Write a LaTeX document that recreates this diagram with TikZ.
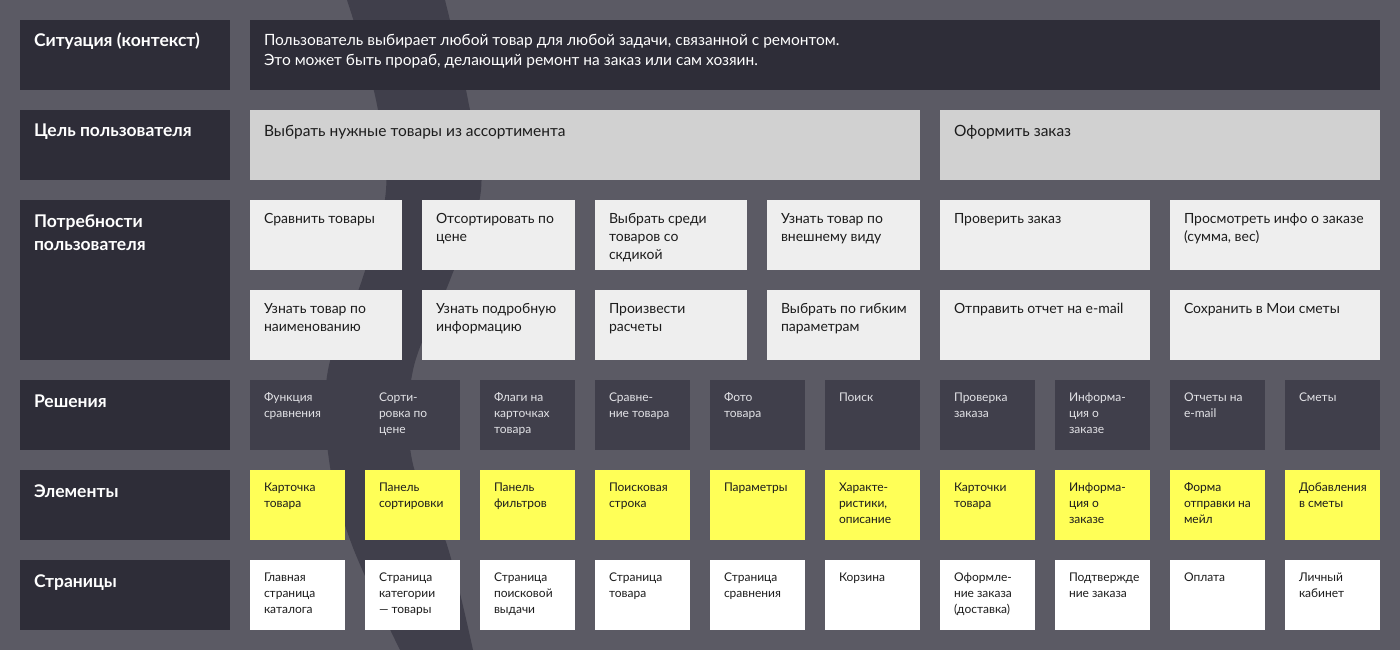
\documentclass[tikz,border=0pt]{standalone}
\usepackage{fontspec}
\setmainfont{Lato}
\usetikzlibrary{positioning}

\definecolor{bg}{HTML}{5B5A64}
\definecolor{band}{HTML}{403F4B}
\definecolor{ink}{HTML}{2E2D38}
\definecolor{goalgray}{HTML}{D1D1D1}
\definecolor{needgray}{HTML}{EEEEEE}
\definecolor{hilite}{HTML}{FFFF57}
\definecolor{soltext}{HTML}{E2E2E6}
\definecolor{dark}{HTML}{1C1C1C}

% text settings: size, line skip, first baseline
\newcommand\celllbl{\bfseries\fontsize{17.5}{23}\selectfont\rule{0pt}{27pt}}
\newcommand\cellbig{\fontsize{15.5}{20}\selectfont\rule{0pt}{26pt}}
\newcommand\cellneed{\fontsize{14}{18}\selectfont\rule{0pt}{23pt}}
\newcommand\cellsmall{\fontsize{12}{16}\selectfont\rule{0pt}{21pt}}

\begin{document}
\begin{tikzpicture}[x=1pt, y=-1pt]
        % Define styles for shapes
        \tikzset{
            cell/.style n args={3}{anchor=north west, inner sep=0pt, outer sep=0pt,
                execute at begin node={\begin{minipage}[t][#2][t]{#1}\raggedright\leftskip=14pt\relax#3},
                execute at end node={\end{minipage}}},
            lbl/.style={cell={210pt}{#1}{\celllbl}, fill=ink, text=white},
            lbl/.default=70pt,
            big/.style={cell={#1}{70pt}{\cellbig}},
            need/.style={cell={#1}{70pt}{\cellneed}, fill=needgray, text=dark},
            need/.default=152pt
        }
        \tikzstyle{sol} = [cell={95pt}{70pt}{\cellsmall}, fill=band, text=soltext]
        \tikzstyle{elem} = [cell={95pt}{70pt}{\cellsmall}, fill=hilite, text=dark]
        \tikzstyle{page} = [cell={95pt}{70pt}{\cellsmall}, fill=white, text=dark]

        % Background and swoosh
        \useasboundingbox (0,0) rectangle (1400,650);
        \fill[bg] (0,0) rectangle (1400,650);
        \fill[band] plot[smooth, tension=0.6] coordinates {(347,0) (376,100) (386,190) (362,280) (328,370) (329,460) (352,545) (400,650)}
            -- plot[smooth, tension=0.6] coordinates {(473,650) (447,545) (412,460) (413,370) (450,280) (481,190) (468,100) (445,0)} -- cycle;

        % Situation
        \node[lbl] (sit-l) at (20,20) {Ситуация (контекст)};
        \node[big=1130pt, fill=ink, text=white] (sit) at (250,20) {Пользователь выбирает любой товар для любой задачи, связанной с ремонтом.\\Это может быть прораб, делающий ремонт на заказ или сам хозяин.};

        % Goals
        \node[lbl] (goal-l) at (20,110) {Цель пользователя};
        \node[big=670pt, fill=goalgray, text=dark] (goal1) at (250,110) {Выбрать нужные товары из ассортимента};
        \node[big=440pt, fill=goalgray, text=dark] (goal2) at (940,110) {Оформить заказ};

        % Needs
        \node[lbl=160pt] (need-l) at (20,200) {Потребности\\пользователя};
        \node[need] (need1) at (250,200) {Сравнить товары};
        \node[need=153pt] (need2) at (422,200) {Отсортировать по\\цене};
        \node[need] (need3) at (595,200) {Выбрать среди\\товаров со\\скдикой};
        \node[need=153pt] (need4) at (767,200) {Узнать товар по\\внешнему виду};
        \node[need=210pt] (need5) at (940,200) {Проверить заказ};
        \node[need=210pt] (need6) at (1170,200) {Просмотреть инфо о заказе\\(сумма, вес)};
        \node[need] (need7) at (250,290) {Узнать товар по\\наименованию};
        \node[need=153pt] (need8) at (422,290) {Узнать подробную\\информацию};
        \node[need] (need9) at (595,290) {Произвести\\расчеты};
        \node[need=153pt] (need10) at (767,290) {Выбрать по гибким\\параметрам};
        \node[need=210pt] (need11) at (940,290) {Отправить отчет на e-mail};
        \node[need=210pt] (need12) at (1170,290) {Сохранить в Мои сметы};

        % Solutions
        \node[lbl] (sol-l) at (20,380) {Решения};
        \node[sol] (sol1) at (250,380) {Функция\\сравнения};
        \node[sol] (sol2) at (365,380) {Сорти-\\ровка по\\цене};
        \node[sol] (sol3) at (480,380) {Флаги на\\карточках\\товара};
        \node[sol] (sol4) at (595,380) {Сравне-\\ние товара};
        \node[sol] (sol5) at (710,380) {Фото\\товара};
        \node[sol] (sol6) at (825,380) {Поиск};
        \node[sol] (sol7) at (940,380) {Проверка\\заказа};
        \node[sol] (sol8) at (1055,380) {Информа-\\ция о\\заказе};
        \node[sol] (sol9) at (1170,380) {Отчеты на\\e-mail};
        \node[sol] (sol10) at (1285,380) {Сметы};

        % Elements
        \node[lbl] (el-l) at (20,470) {Элементы};
        \node[elem] (el1) at (250,470) {Карточка\\товара};
        \node[elem] (el2) at (365,470) {Панель\\сортировки};
        \node[elem] (el3) at (480,470) {Панель\\фильтров};
        \node[elem] (el4) at (595,470) {Поисковая\\строка};
        \node[elem] (el5) at (710,470) {Параметры};
        \node[elem] (el6) at (825,470) {Характе-\\ристики,\\описание};
        \node[elem] (el7) at (940,470) {Карточки\\товара};
        \node[elem] (el8) at (1055,470) {Информа-\\ция о\\заказе};
        \node[elem] (el9) at (1170,470) {Форма\\отправки на\\мейл};
        \node[elem] (el10) at (1285,470) {Добавления\\в сметы};

        % Pages
        \node[lbl] (pg-l) at (20,560) {Страницы};
        \node[page] (pg1) at (250,560) {Главная\\страница\\каталога};
        \node[page] (pg2) at (365,560) {Страница\\категории\\— товары};
        \node[page] (pg3) at (480,560) {Страница\\поисковой\\выдачи};
        \node[page] (pg4) at (595,560) {Страница\\товара};
        \node[page] (pg5) at (710,560) {Страница\\сравнения};
        \node[page] (pg6) at (825,560) {Корзина};
        \node[page] (pg7) at (940,560) {Оформле-\\ние заказа\\(доставка)};
        \node[page] (pg8) at (1055,560) {Подтвержде\\ние заказа};
        \node[page] (pg9) at (1170,560) {Оплата};
        \node[page] (pg10) at (1285,560) {Личный\\кабинет};
    \end{tikzpicture}
\end{document}
